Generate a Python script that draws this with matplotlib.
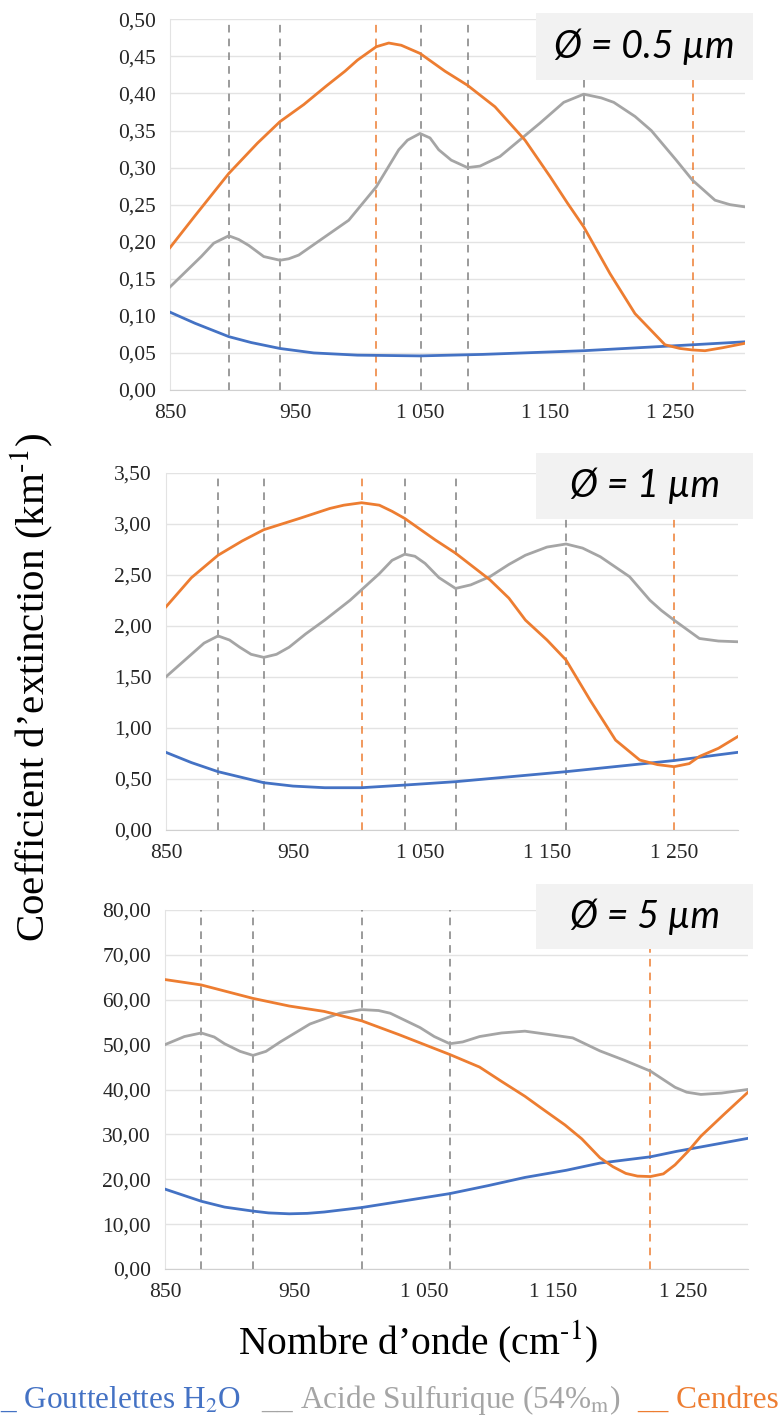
import matplotlib
matplotlib.use("Agg")
from matplotlib import pyplot as plt
from matplotlib.patches import Rectangle
from matplotlib.ticker import FuncFormatter

plt.rcParams['font.family'] = ['Liberation Serif', 'DejaVu Serif']
plt.rcParams['mathtext.fontset'] = 'stix'

BLUE = '#4472C4'
GRAY = '#A5A5A5'
ORANGE = '#ED7D31'

# ---- data ----
# panel 1 : diameter 0.5 um
p1_water_x = [850, 870, 897, 915, 938, 965, 1000, 1050, 1100, 1181, 1268, 1310]
p1_water_y = [0.105, 0.090, 0.072, 0.064, 0.056, 0.050, 0.047, 0.046, 0.048, 0.053, 0.061, 0.065]
p1_acid_x = [850, 875, 885, 897, 905, 913, 925, 938, 945, 953, 993, 1015, 1033, 1040, 1050,
             1058, 1065, 1075, 1088, 1098, 1114, 1146, 1165, 1181, 1195, 1205, 1222, 1235,
             1245, 1255, 1268, 1286, 1298, 1310]
p1_acid_y = [0.139, 0.180, 0.198, 0.208, 0.203, 0.195, 0.180, 0.175, 0.177, 0.182, 0.229,
             0.274, 0.324, 0.337, 0.346, 0.340, 0.324, 0.310, 0.300, 0.302, 0.315, 0.360,
             0.388, 0.399, 0.394, 0.388, 0.369, 0.350, 0.330, 0.310, 0.283, 0.256, 0.250, 0.247]
p1_ash_x = [850, 870, 897, 920, 938, 957, 975, 990, 1000, 1015, 1025, 1035, 1050, 1070, 1088,
            1110, 1134, 1154, 1168, 1181, 1202, 1222, 1246, 1258, 1268, 1278, 1292, 1310]
p1_ash_y = [0.192, 0.235, 0.292, 0.333, 0.362, 0.385, 0.410, 0.430, 0.445, 0.463, 0.468,
            0.465, 0.454, 0.430, 0.411, 0.382, 0.337, 0.288, 0.252, 0.220, 0.157, 0.103,
            0.061, 0.056, 0.054, 0.053, 0.057, 0.063]
p1_gray_marks = [897, 938, 1051, 1088, 1181]
p1_ash_marks = [1015, 1268]

# panel 2 : diameter 1 um
p2_water_x = [850, 870, 891, 927, 950, 975, 1004, 1038, 1078, 1165, 1250, 1300]
p2_water_y = [0.76, 0.66, 0.571, 0.463, 0.43, 0.414, 0.414, 0.44, 0.473, 0.571, 0.68, 0.76]
p2_acid_x = [850, 870, 880, 891, 900, 908, 917, 927, 937, 947, 960, 975, 995, 1018, 1028,
             1038, 1046, 1054, 1065, 1078, 1090, 1105, 1120, 1133, 1150, 1165, 1178, 1192,
             1215, 1231, 1240, 1250, 1270, 1285, 1300]
p2_acid_y = [1.50, 1.72, 1.83, 1.90, 1.86, 1.79, 1.72, 1.69, 1.72, 1.79, 1.92, 2.055, 2.25,
             2.51, 2.64, 2.70, 2.68, 2.61, 2.47, 2.365, 2.40, 2.48, 2.60, 2.69, 2.77, 2.80,
             2.76, 2.675, 2.48, 2.25, 2.15, 2.055, 1.875, 1.85, 1.843]
p2_ash_x = [850, 870, 891, 910, 927, 955, 979, 990, 1004, 1018, 1028, 1038, 1062, 1078, 1105,
            1120, 1133, 1150, 1165, 1184, 1204, 1223, 1237, 1250, 1262, 1270, 1285, 1300]
p2_ash_y = [2.185, 2.47, 2.69, 2.83, 2.94, 3.05, 3.148, 3.18, 3.204, 3.18, 3.12, 3.05, 2.84,
            2.71, 2.45, 2.27, 2.055, 1.86, 1.664, 1.27, 0.88, 0.685, 0.64, 0.62, 0.65, 0.72,
            0.80, 0.913]
p2_gray_marks = [891, 927, 1038, 1078, 1165]
p2_ash_marks = [1004, 1250]

# panel 3 : diameter 5 um
p3_water_x = [850, 878, 896, 918, 930, 946, 960, 973, 1002, 1035, 1070, 1100, 1128, 1160,
              1186, 1225, 1245, 1264, 1300]
p3_water_y = [17.8, 15.1, 13.8, 12.9, 12.5, 12.3, 12.4, 12.7, 13.7, 15.2, 16.8, 18.6, 20.4,
              22.0, 23.6, 25.0, 26.2, 27.2, 29.1]
p3_acid_x = [850, 865, 878, 888, 896, 908, 918, 928, 939, 962, 985, 1002, 1015, 1024, 1047,
             1058, 1070, 1080, 1093, 1110, 1128, 1148, 1165, 1186, 1205, 1225, 1244, 1253,
             1264, 1280, 1300]
p3_acid_y = [50.0, 51.8, 52.6, 51.7, 50.2, 48.5, 47.6, 48.5, 50.6, 54.6, 57.0, 57.8, 57.6,
             57.0, 53.8, 51.8, 50.2, 50.6, 51.8, 52.6, 53.0, 52.2, 51.5, 48.6, 46.5, 44.1,
             40.5, 39.4, 38.9, 39.2, 40.0]
p3_ash_x = [850, 878, 918, 946, 973, 1002, 1031, 1070, 1093, 1110, 1128, 1140, 1159, 1172,
            1186, 1196, 1206, 1215, 1225, 1235, 1244, 1254, 1264, 1282, 1300]
p3_ash_y = [64.5, 63.3, 60.3, 58.6, 57.4, 55.3, 52.2, 47.8, 45.0, 41.8, 38.5, 36.0, 32.1,
            29.0, 24.8, 22.8, 21.3, 20.7, 20.6, 21.2, 23.2, 26.2, 29.6, 34.5, 39.3]
p3_gray_marks = [878, 918, 1002, 1070]
p3_ash_marks = [1225]

x_ticks = [850, 950, 1050, 1150, 1250]
x_tick_labels = ['850', '950', '1 050', '1 150', '1 250']

panels = [
    dict(water=(p1_water_x, p1_water_y), acid=(p1_acid_x, p1_acid_y), ash=(p1_ash_x, p1_ash_y),
         gmarks=p1_gray_marks, omarks=p1_ash_marks, xmax=1310, ymax=0.5, ystep=0.05,
         label='Ø = 0.5 µm', box=(536, 13, 753, 80), rect=(170, 19.3, 745, 390)),
    dict(water=(p2_water_x, p2_water_y), acid=(p2_acid_x, p2_acid_y), ash=(p2_ash_x, p2_ash_y),
         gmarks=p2_gray_marks, omarks=p2_ash_marks, xmax=1300, ymax=3.5, ystep=0.5,
         label='Ø = 1 µm', box=(536, 453, 753, 519), rect=(166, 472.5, 737.5, 830)),
    dict(water=(p3_water_x, p3_water_y), acid=(p3_acid_x, p3_acid_y), ash=(p3_ash_x, p3_ash_y),
         gmarks=p3_gray_marks, omarks=p3_ash_marks, xmax=1300, ymax=80, ystep=10,
         label='Ø = 5 µm', box=(536, 884, 753, 949), rect=(165, 910, 747.5, 1269)),
]

W, H = 780, 1423
fig = plt.figure(figsize=(W / 100, H / 100), dpi=100)

for p in panels:
    l, t, r, b = p['rect']
    ax = fig.add_axes([l / W, 1 - b / H, (r - l) / W, (b - t) / H])
    for xm in p['gmarks']:
        ax.axvline(xm, color='#808080', ls=(0, (5, 4)), lw=1.1, zorder=2)
    for xm in p['omarks']:
        ax.axvline(xm, color=ORANGE, ls=(0, (5, 4)), lw=1.1, zorder=2)
    ax.plot(*p['water'], color=BLUE, lw=2, zorder=3)
    ax.plot(*p['acid'], color=GRAY, lw=2, zorder=3)
    ax.plot(*p['ash'], color=ORANGE, lw=2, zorder=3)

    ax.set_xlim(850, p['xmax'])
    ax.set_ylim(0, p['ymax'])
    n = int(round(p['ymax'] / p['ystep']))
    ax.set_yticks([i * p['ystep'] for i in range(n + 1)])
    ax.yaxis.set_major_formatter(FuncFormatter(lambda v, pos: f"{v:.2f}".replace('.', ',')))
    ax.set_xticks(x_ticks)
    ax.set_xticklabels(x_tick_labels)
    ax.tick_params(length=0, labelsize=15.5, colors='#262626')
    ax.tick_params(axis='y', pad=10)
    ax.tick_params(axis='x', pad=10)
    ax.grid(axis='y', color='#e3e3e3', lw=1)
    ax.set_axisbelow(True)
    for s in ['top', 'right']:
        ax.spines[s].set_visible(False)
    ax.spines['left'].set_color('#e3e3e3')
    ax.spines['bottom'].set_color('#d0d0d0')

    bx0, by0, bx1, by1 = p['box']
    fig.add_artist(Rectangle((bx0 / W, 1 - by1 / H), (bx1 - bx0) / W, (by1 - by0) / H,
                             transform=fig.transFigure, facecolor='#f2f2f2',
                             edgecolor='none', zorder=5))
    fig.text((bx0 + bx1) / 2 / W, 1 - (by0 + by1) / 2 / H, p['label'], family=['Lato', 'DejaVu Sans'],
             style='italic', fontsize=27, ha='center', va='center', zorder=6)

fig.text(32 / W, 1 - 687 / H, 'Coefficient d\u2019extinction (km$^{\\text{-}1}$)', rotation=90,
         fontsize=29.5, ha='center', va='center')
fig.text(418 / W, 1 - 1342 / H, 'Nombre d\u2019onde (cm$^{\\text{-}1}$)', fontsize=28.5,
         ha='center', va='center')

fig.text(0, 1 - 1400 / H, '_ Gouttelettes H$_2$O', color=BLUE, fontsize=22.5,
         ha='left', va='center')
fig.text(261 / W, 1 - 1400 / H, '__ Acide Sulfurique (54%$_{\\mathrm{m}}$)', color=GRAY,
         fontsize=22.5, ha='left', va='center')
fig.text(637 / W, 1 - 1400 / H, '__ Cendres', color=ORANGE, fontsize=22.5,
         ha='left', va='center')

fig.savefig('out.png', dpi=100)
